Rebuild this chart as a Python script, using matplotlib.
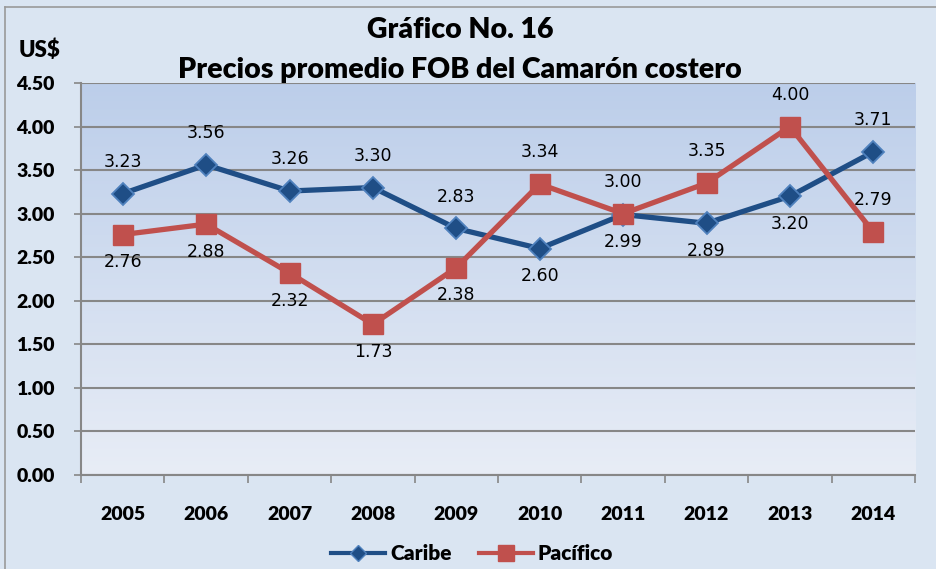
import numpy as np
import matplotlib
matplotlib.use("Agg")
import matplotlib.pyplot as plt
from matplotlib.lines import Line2D

years = ["2005", "2006", "2007", "2008", "2009", "2010", "2011", "2012", "2013", "2014"]
caribe = [3.23, 3.56, 3.26, 3.30, 2.83, 2.60, 2.99, 2.89, 3.20, 3.71]
pacifico = [2.76, 2.88, 2.32, 1.73, 2.38, 3.34, 3.00, 3.35, 4.00, 2.79]
caribe_label_pos = ["a", "a", "a", "a", "a", "b", "b", "b", "b", "a"]
pacifico_label_pos = ["b", "b", "b", "b", "b", "a", "a", "a", "a", "a"]
yticks = [0.0, 0.5, 1.0, 1.5, 2.0, 2.5, 3.0, 3.5, 4.0, 4.5]

title1 = "Gráfico No. 16"
title2 = "Precios promedio FOB del Camarón costero"

BOLD = "Lato"
W = "heavy"
BLUE = "#1F4E86"
RED = "#C0504D"

fig = plt.figure(figsize=(9.36, 5.69), dpi=100)
fig.patch.set_facecolor("#DAE5F2")

# frame
fig.add_artist(Line2D([5/936, 5/936], [0, 1 - 7/569], transform=fig.transFigure, color="#9A9A9A", lw=1.2))
fig.add_artist(Line2D([5/936, 1], [1 - 7/569, 1 - 7/569], transform=fig.transFigure, color="#9A9A9A", lw=1.2))

ax = fig.add_axes([81/936, 94/569, 834/936, 392/569])
n = len(years)
x = np.arange(n)

# gradient plot area (darker at top)
grad = np.linspace(0, 1, 256).reshape(-1, 1)
top = np.array([188, 206, 234]) / 255
bot = np.array([232, 237, 246]) / 255
img = top[None, None, :] * (1 - grad[:, :, None]) + bot[None, None, :] * grad[:, :, None]
ax.imshow(img, extent=[-0.5, n - 0.5, 0, 4.5], origin="upper", aspect="auto", zorder=0)
ax.set_xlim(-0.5, n - 0.5)
ax.set_ylim(0, 4.5)

ax.set_yticks(yticks)
ax.set_yticklabels([f"{v:.2f}" for v in yticks], fontfamily=BOLD, fontweight=W, fontsize=14)
ax.yaxis.grid(True, color="#878787", lw=1.5, zorder=1)
ax.set_axisbelow(True)

ax.set_xticks(np.arange(n + 1) - 0.5)
ax.set_xticklabels([])
ax.set_xticks(x, minor=True)
ax.set_xticklabels(years, minor=True, fontfamily=BOLD, fontweight=W, fontsize=14)
ax.tick_params(axis="x", which="major", length=6, color="#878787", width=1.2, direction="out")
ax.tick_params(axis="x", which="minor", length=0, pad=22)
ax.tick_params(axis="y", length=5, color="#878787", width=1.2, pad=14)

for s in ["top", "right"]:
    ax.spines[s].set_visible(False)
for s in ["left", "bottom"]:
    ax.spines[s].set_color("#878787")
    ax.spines[s].set_linewidth(1.5)

ax.plot(x, caribe, color=BLUE, lw=3.8, marker="D", markersize=11,
        markerfacecolor=BLUE, markeredgecolor="#4F81BD", markeredgewidth=1.3, zorder=3)
ax.plot(x, pacifico, color=RED, lw=3.8, marker="s", markersize=15,
        markerfacecolor=RED, markeredgecolor=RED, zorder=4)

for xi, v, p in zip(x, caribe, caribe_label_pos):
    off = 23 if p == "a" else -20
    ax.annotate(f"{v:.2f}", (xi, v), xytext=(0, off), textcoords="offset points",
                ha="center", va="center", fontsize=12.5, fontfamily="DejaVu Sans", zorder=6)
for xi, v, p in zip(x, pacifico, pacifico_label_pos):
    off = 23 if p == "a" else -20
    ax.annotate(f"{v:.2f}", (xi, v), xytext=(0, off), textcoords="offset points",
                ha="center", va="center", fontsize=12.5, fontfamily="DejaVu Sans", zorder=6)

fig.text(460/936, 1 - 30/569, title1, ha="center", va="center", fontfamily=BOLD, fontweight=W, fontsize=20.5)
fig.text(460/936, 1 - 70/569, title2, ha="center", va="center", fontfamily=BOLD, fontweight=W, fontsize=20.5)
fig.text(40/936, 1 - 50/569, "US$", ha="center", va="center", fontfamily=BOLD, fontweight=W, fontsize=16)

h1 = Line2D([], [], color=BLUE, lw=3, marker="D", markersize=8,
            markerfacecolor=BLUE, markeredgecolor="#4F81BD", markeredgewidth=1)
h2 = Line2D([], [], color=RED, lw=3, marker="s", markersize=11,
            markerfacecolor=RED, markeredgecolor=RED)
fig.legend([h1, h2], ["Caribe", "Pacífico"], loc="center", bbox_to_anchor=(472/936, 1 - 554/569),
           ncol=2, frameon=False, prop={"family": BOLD, "weight": W, "size": 15},
           handlelength=2.6, columnspacing=1.3, handletextpad=0.25)

fig.savefig("out.png", dpi=100, facecolor=fig.get_facecolor())
